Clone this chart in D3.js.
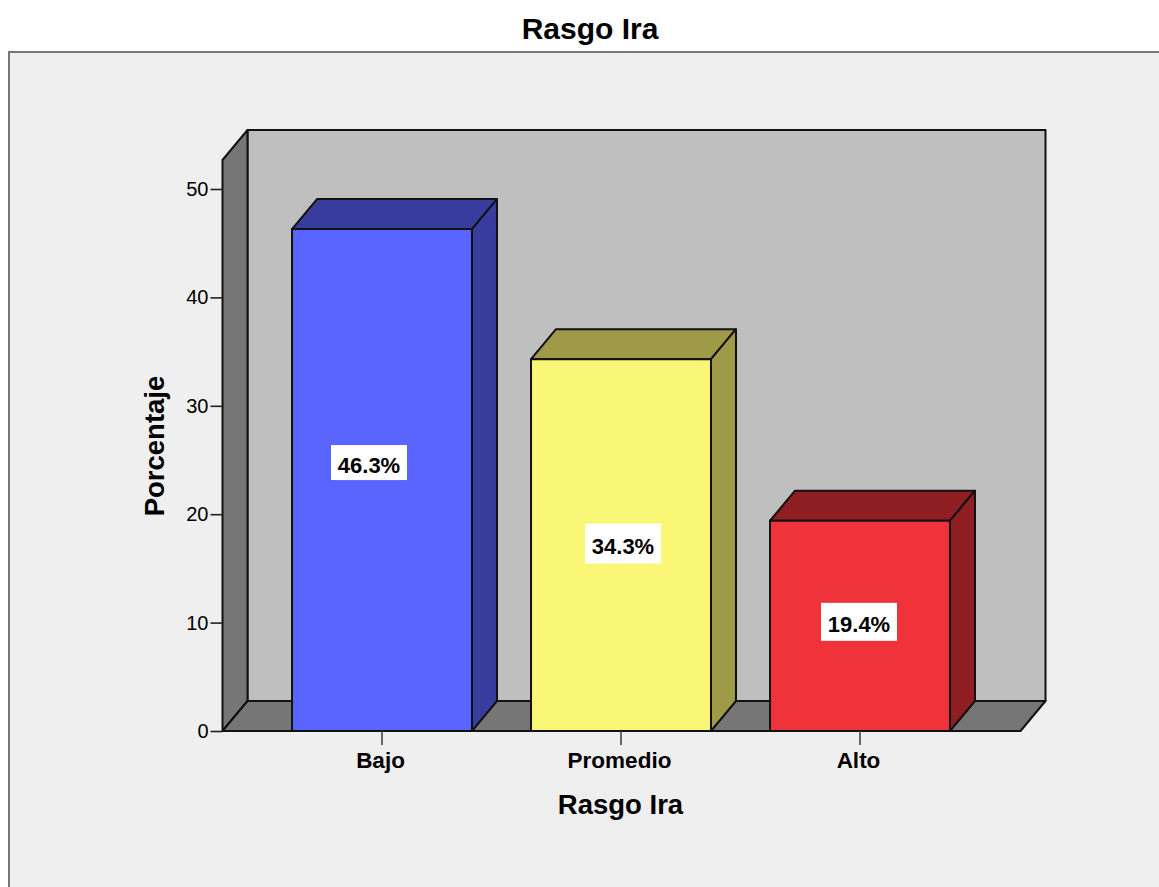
<!DOCTYPE html>
<html>
<head>
<meta charset="utf-8">
<script src="https://cdn.jsdelivr.net/npm/d3@7"></script>
<style>
  html, body { margin: 0; padding: 0; background: #fff; }
  svg { display: block; }
  text { font-family: "Liberation Sans", Arial, sans-serif; fill: #000; }
</style>
</head>
<body>
<div id="chart"></div>
<script>
"use strict";

// === DATA ===
const categories = ["Bajo", "Promedio", "Alto"];
const values = [46.3, 34.3, 19.4];
const labels = ["46.3%", "34.3%", "19.4%"];
const frontColors = ["#5a64ff", "#fbf776", "#f0333b"];
const topColors = ["#383c9c", "#9e9a48", "#8e1e22"];
const yTicks = [0, 10, 20, 30, 40, 50];

// label boxes are not quite centred on the bars in the original
const labelShiftX = [-13, 2, -1];
const labelShiftY = [-17.5, -1.5, -4];
const labelBoxH = [35, 40, 38];

const svgWidth = 1159, svgHeight = 887;
const depthX = 25, depthY = 30;

const svg = d3.select("#chart")
  .append("svg")
  .attr("width", svgWidth)
  .attr("height", svgHeight);

// === SCALES ===
const yScale = d3.scaleLinear().domain([0, 50]).range([731, 189]);
const xScale = d3.scaleBand()
  .domain(categories)
  .range([262.5, 979.5])
  .paddingInner(0.247)
  .paddingOuter(0.1235);

// === OUTER PANEL ===
svg.append("rect")
  .attr("x", 9).attr("y", 52)
  .attr("width", svgWidth).attr("height", svgHeight)
  .attr("fill", "#efefef")
  .attr("stroke", "#777")
  .attr("stroke-width", 2);

svg.append("text")
  .attr("x", 590).attr("y", 39)
  .attr("text-anchor", "middle")
  .attr("font-size", "30px")
  .attr("font-weight", "bold")
  .text("Rasgo Ira");

// === 3D BOX ===
const floorY = yScale(0), left = 222.5, right = 1020.5, plotTop = 160;
const poly = (pts, fill) => svg.append("polygon")
  .attr("points", pts.map(p => p.join(",")).join(" "))
  .attr("fill", fill)
  .attr("stroke", "#111")
  .attr("stroke-width", 2)
  .attr("stroke-linejoin", "round");

// back wall
poly([[left + depthX, plotTop - depthY], [right + depthX, plotTop - depthY],
      [right + depthX, floorY - depthY], [left + depthX, floorY - depthY]], "#bfbfbf");
// side wall
poly([[left, plotTop], [left + depthX, plotTop - depthY],
      [left + depthX, floorY - depthY], [left, floorY]], "#767676");
// floor
poly([[left, floorY], [left + depthX, floorY - depthY],
      [right + depthX, floorY - depthY], [right, floorY]], "#767676");

// === BARS ===
categories.forEach((c, i) => {
  const x0 = xScale(c), x1 = x0 + xScale.bandwidth();
  const yTop = yScale(values[i]);
  // top face
  poly([[x0, yTop], [x0 + depthX, yTop - depthY], [x1 + depthX, yTop - depthY], [x1, yTop]], topColors[i]);
  // side face
  poly([[x1, yTop], [x1 + depthX, yTop - depthY], [x1 + depthX, floorY - depthY], [x1, floorY]], topColors[i]);
  // front
  poly([[x0, yTop], [x1, yTop], [x1, floorY], [x0, floorY]], frontColors[i]);

  // value label
  const cx = (x0 + x1) / 2 + labelShiftX[i];
  const cy = (yTop + floorY) / 2 + labelShiftY[i];
  svg.append("rect")
    .attr("x", cx - 38).attr("y", cy - labelBoxH[i] / 2)
    .attr("width", 76).attr("height", labelBoxH[i])
    .attr("fill", "#fff");
  svg.append("text")
    .attr("x", cx).attr("y", cy + 10)
    .attr("text-anchor", "middle")
    .attr("font-size", "22px")
    .attr("font-weight", "bold")
    .text(labels[i]);
});

// === AXES ===
const yAxis = d3.axisLeft(yScale)
  .tickValues(yTicks)
  .tickSize(12)
  .tickPadding(2);

const yG = svg.append("g")
  .attr("transform", `translate(${left}, 0)`)
  .call(yAxis);
yG.select(".domain").remove();
yG.selectAll("line").attr("stroke", "#222").attr("stroke-width", 1.6);
yG.selectAll("text").attr("font-size", "20px");

const xAxis = d3.axisBottom(xScale).tickSize(14).tickPadding(7);
const xG = svg.append("g")
  .attr("transform", `translate(0, ${floorY})`)
  .call(xAxis);
xG.select(".domain").remove();
xG.selectAll("line").attr("stroke", "#444").attr("stroke-width", 1.6);
xG.selectAll("text")
  .attr("dx", -1.5)
  .attr("font-size", "22.5px")
  .attr("font-weight", "bold");

// === AXIS LABELS ===
svg.append("text")
  .attr("x", 620.5).attr("y", 814)
  .attr("text-anchor", "middle")
  .attr("font-size", "27.5px")
  .attr("font-weight", "bold")
  .text("Rasgo Ira");

svg.append("text")
  .attr("transform", "rotate(-90)")
  .attr("x", -446).attr("y", 164)
  .attr("text-anchor", "middle")
  .attr("font-size", "27.5px")
  .attr("font-weight", "bold")
  .text("Porcentaje");
</script>
</body>
</html>
